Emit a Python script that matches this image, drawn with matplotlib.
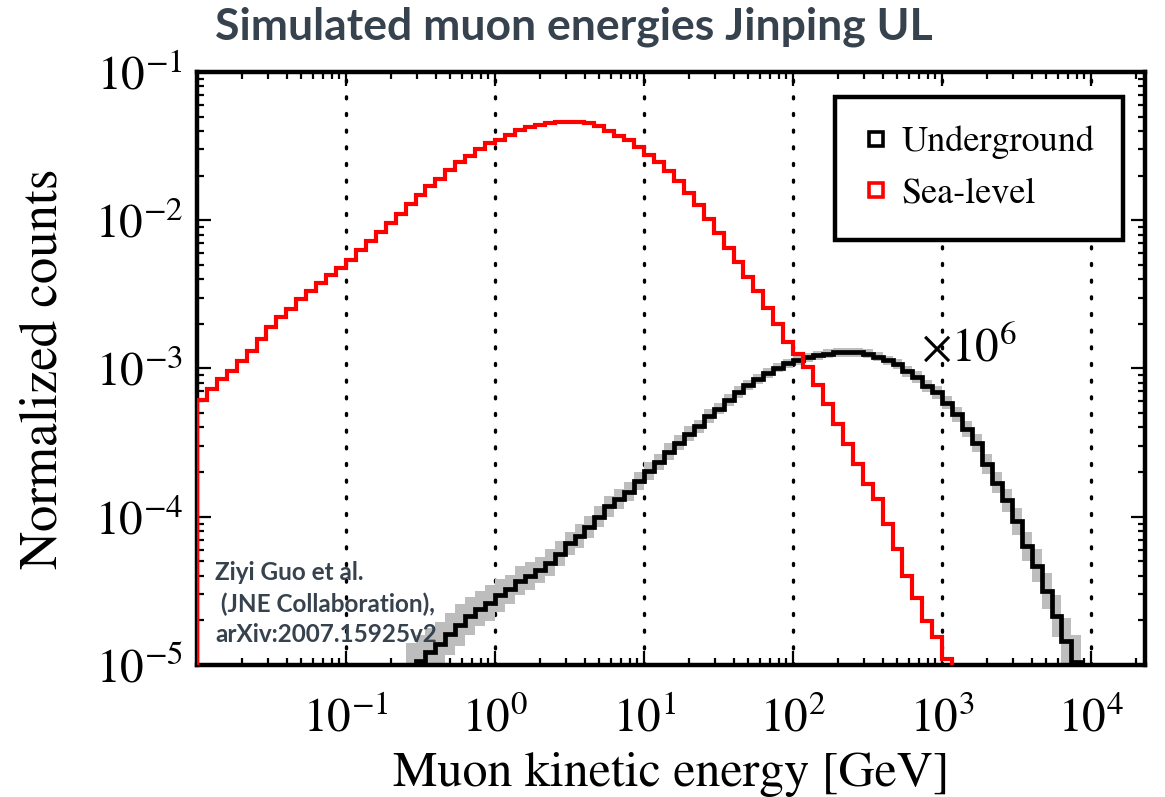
import numpy as np
import matplotlib
matplotlib.use("Agg")
import matplotlib.pyplot as plt
from matplotlib.ticker import LogLocator, NullFormatter, FixedLocator

# log10 histogram bins, 15 per decade starting at 1e-2 GeV
BINS_PER_DECADE = 15
LOG_E_START = -2.0

# Sea-level spectrum, log10(normalized counts), bins 0..76
sea_level_log = [
    -3.21, -3.14, -3.07, -3.02, -2.95, -2.885, -2.80, -2.72, -2.655, -2.60,
    -2.53, -2.48, -2.42, -2.37, -2.32, -2.265, -2.20, -2.14, -2.08, -2.02,
    -1.955, -1.89, -1.83, -1.77, -1.725, -1.66, -1.61, -1.565, -1.52, -1.48,
    -1.46, -1.425, -1.39, -1.37, -1.355, -1.345, -1.335, -1.335, -1.335, -1.345,
    -1.365, -1.395, -1.43, -1.46, -1.505, -1.56, -1.61, -1.67, -1.735, -1.815,
    -1.90, -1.995, -2.085, -2.185, -2.28, -2.385, -2.48, -2.59, -2.70, -2.82,
    -2.905, -2.99, -3.11, -3.24, -3.375, -3.51, -3.645, -3.78, -3.88, -4.05,
    -4.22, -4.40, -4.55, -4.70, -4.81, -4.96, -5.03,
]

# Underground spectrum (x1e6), log10(normalized counts), bins 21..88
UG_FIRST_BIN = 21
underground_log = [
    -5.03, -4.97, -4.91, -4.86, -4.79, -4.73, -4.67, -4.62, -4.58, -4.53,
    -4.49, -4.43, -4.40, -4.36, -4.31, -4.25, -4.18, -4.13, -4.07, -4.00,
    -3.93, -3.88, -3.83, -3.76, -3.69, -3.63, -3.56, -3.50, -3.44, -3.39,
    -3.32, -3.27, -3.21, -3.16, -3.11, -3.07, -3.03, -2.995, -2.965, -2.945,
    -2.925, -2.91, -2.90, -2.89, -2.89, -2.89, -2.90, -2.92, -2.945, -2.97,
    -3.02, -3.06, -3.12, -3.16, -3.23, -3.31, -3.41, -3.50, -3.645, -3.77,
    -3.89, -4.03, -4.20, -4.33, -4.50, -4.67, -4.84, -4.98,
]
# half width of the grey uncertainty band, in decades
underground_err = [
    0.18, 0.17, 0.16, 0.15, 0.14, 0.14, 0.13, 0.12, 0.12, 0.11,
    0.10, 0.10, 0.095, 0.09, 0.09, 0.085, 0.08, 0.08, 0.075, 0.07,
    0.07, 0.065, 0.065, 0.06, 0.06, 0.055, 0.055, 0.05, 0.05, 0.045,
    0.045, 0.04, 0.04, 0.04, 0.035, 0.035, 0.035, 0.03, 0.03, 0.03,
    0.03, 0.03, 0.03, 0.03, 0.03, 0.03, 0.03, 0.03, 0.03, 0.035,
    0.035, 0.04, 0.04, 0.045, 0.045, 0.05, 0.055, 0.06, 0.065, 0.07,
    0.08, 0.09, 0.10, 0.11, 0.12, 0.14, 0.16, 0.18,
]

x_major = [1e-1, 1e0, 1e1, 1e2, 1e3, 1e4]
x_limits = (1e-2, 2.3e4)
y_limits = (1e-5, 1e-1)

title_text = "Simulated muon energies Jinping UL"
credit_text = "Ziyi Guo et al.\n (JNE Collaboration),\narXiv:2007.15925v2"
scale_text = r"$\times10^6$"
slate = "#36424e"

plt.rcParams["font.family"] = "STIXGeneral"
plt.rcParams["mathtext.fontset"] = "stix"


def edges_for(first, n):
    k = np.arange(first, first + n + 1)
    return 10.0 ** (LOG_E_START + k / BINS_PER_DECADE)


fig = plt.figure(figsize=(11.65, 7.97), dpi=100)
ax = fig.add_axes([0.169, 0.1656, 0.814, 0.7441])

sea_edges = edges_for(0, len(sea_level_log))
ug_edges = edges_for(UG_FIRST_BIN, len(underground_log))

ug_vals = 10.0 ** np.array(underground_log)
ug_err = np.array(underground_err)
ug_lo = 10.0 ** (np.array(underground_log) - ug_err)
ug_hi = 10.0 ** (np.array(underground_log) + ug_err)

ax.stairs(ug_hi, ug_edges, baseline=ug_lo, fill=True, color="#bdbdbd",
          linewidth=0, zorder=2)
ax.stairs(ug_vals, ug_edges, baseline=1e-9, color="black", linewidth=3.4,
          zorder=3)
ax.stairs(10.0 ** np.array(sea_level_log), sea_edges, baseline=1e-9,
          color="red", linewidth=3.0, zorder=4)

ax.set_xscale("log")
ax.set_yscale("log")
ax.set_xlim(*x_limits)
ax.set_ylim(*y_limits)

for xv in x_major:
    ax.axvline(xv, color="black", linestyle=(0, (0.6, 4.4)), linewidth=2.4,
               dash_capstyle="round", zorder=1)

ax.xaxis.set_major_locator(FixedLocator(x_major))
ax.xaxis.set_minor_locator(LogLocator(base=10, subs=np.arange(2, 10), numticks=20))
ax.yaxis.set_major_locator(LogLocator(base=10, numticks=20))
ax.yaxis.set_minor_locator(LogLocator(base=10, subs=np.arange(2, 10), numticks=20))
ax.xaxis.set_minor_formatter(NullFormatter())
ax.yaxis.set_minor_formatter(NullFormatter())

ax.tick_params(which="both", direction="in", top=True, right=True,
               labelsize=34, width=1.6, colors="black")
ax.tick_params(which="major", length=10)
ax.tick_params(which="minor", length=5)
ax.tick_params(axis="x", which="major", pad=23)
ax.tick_params(axis="y", which="major", pad=10)
for sp in ax.spines.values():
    sp.set_linewidth(3.2)

ax.set_xlabel("Muon kinetic energy [GeV]", fontsize=36, labelpad=7)
ax.set_ylabel("Normalized counts", fontsize=38, labelpad=19)

# legend with hollow square markers
h_ug, = ax.plot([], [], linestyle="none", marker="s", markersize=10,
                markerfacecolor="white", markeredgecolor="black",
                markeredgewidth=2.6, label="Underground")
h_sl, = ax.plot([], [], linestyle="none", marker="s", markersize=10,
                markerfacecolor="white", markeredgecolor="red",
                markeredgewidth=2.6, label="Sea-level")
leg = ax.legend(handles=[h_ug, h_sl], loc="upper right",
                bbox_to_anchor=(0.977, 0.958), fontsize=26, frameon=True,
                fancybox=False, edgecolor="black", framealpha=1,
                borderpad=0.8, handletextpad=0.35, handlelength=0.7,
                labelspacing=0.5, borderaxespad=0)
leg.get_frame().set_linewidth(3.2)

ax.text(724, 1.35e-3, scale_text, fontsize=34, ha="left", va="center")

ax.text(0.019, 0.175, credit_text, transform=ax.transAxes, fontsize=17.5,
        family=["Lato", "DejaVu Sans"], fontweight="bold", color=slate,
        ha="left", va="top", linespacing=1.4, zorder=5)

fig.text(0.493, 0.966, title_text, fontsize=32, family=["Lato", "DejaVu Sans"],
         fontweight="bold", color=slate, ha="center", va="center")

fig.savefig("out.png", dpi=100)
